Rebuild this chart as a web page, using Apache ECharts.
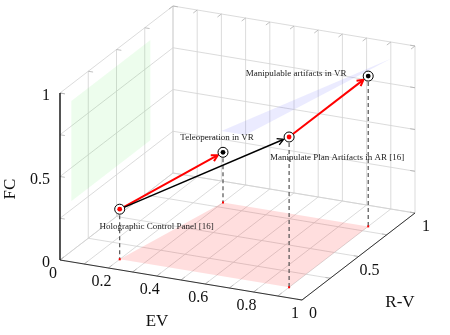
<!DOCTYPE html>
<html><head><meta charset="utf-8">
<script src="https://cdn.jsdelivr.net/npm/echarts@6/dist/echarts.min.js"></script>
<style>html,body{margin:0;padding:0;background:#fff}#c{width:450px;height:335px}</style>
</head><body><div id="c"></div>
<script>
// ---------------- DATA ----------------
const pointNames = ['Holographic Control Panel [16]', 'Teleoperation in VR', 'Manipulate Plan Artifacts in AR [16]', 'Manipulable artifacts in VR'];
const pointEV = [0.2, 0.3, 0.9, 0.9];
const pointRV = [0.1, 0.8, 0.1, 0.8];
const pointFC = [0.3, 0.3, 0.9, 0.9];
const arrowFrom = [0, 0, 2];
const arrowTo   = [1, 2, 3];
const evTickLabels = [0, 0.2, 0.4, 0.6, 0.8, 1];
const rvTickLabels = [0, 0.5, 1];
const fcTickLabels = [0, 0.5, 1];
const evGrid = [0, 0.1, 0.2, 0.3, 0.4, 0.5, 0.6, 0.7, 0.8, 0.9, 1];
const rvGrid = [0, 0.25, 0.5, 0.75, 1];
const fcGrid = [0, 0.25, 0.5, 0.75, 1];
const axisTitles = ['EV', 'R-V', 'FC'];

// ---------------- LAYOUT / STYLE ----------------
const O = [60, 260], EX = [242, 40], EY = [113, -87], EZ = [0, -167];
function P(x, y, z) { return [O[0] + EX[0]*x + EY[0]*y + EZ[0]*z, O[1] + EX[1]*x + EY[1]*y + EZ[1]*z]; }
const dotColors = ['#ff0000', '#000000', '#ff0000', '#000000'];
const arrowColors = ['#ff0000', '#000000', '#ff0000'];
const arrowWidths = [2, 1.4, 2];
const labelOffsets = [[37, 17], [-6, -15], [48, 21], [-72, -2]];
const SERIF = '"Liberation Serif", "DejaVu Serif", serif';

// grid segments
const gridSegs = [];
rvGrid.forEach(v => gridSegs.push([0, v, 0, 0, v, 1]));
fcGrid.forEach(v => gridSegs.push([0, 0, v, 0, 1, v]));
evGrid.forEach(v => gridSegs.push([v, 1, 0, v, 1, 1]));
fcGrid.forEach(v => gridSegs.push([0, 1, v, 1, 1, v]));
evGrid.forEach(v => gridSegs.push([v, 0, 0, v, 1, 0]));
rvGrid.forEach(v => gridSegs.push([0, v, 0, 1, v, 0]));
// tick segments
const tickSegs = [];
evGrid.forEach(v => { tickSegs.push([v, 0, 0, v, 0.035, 0]); tickSegs.push([v, 1, 1, v, 0.965, 1]); });
rvGrid.forEach(v => { tickSegs.push([1, v, 0, 0.98, v, 0]); tickSegs.push([0, v, 1, 0.02, v, 1]); });
fcGrid.forEach(v => { tickSegs.push([0, 0, v, 0.02, 0, v]); tickSegs.push([1, 1, v, 0.98, 1, v]); });

function segRender(color, width, dash) {
  return function (params, api) {
    const a = api.coord(P(api.value(0), api.value(1), api.value(2)));
    const b = api.coord(P(api.value(3), api.value(4), api.value(5)));
    return { type: 'line', shape: { x1: a[0], y1: a[1], x2: b[0], y2: b[1] },
      style: { stroke: color, lineWidth: width, lineDash: dash || null } };
  };
}

// polygons (shaded projections)
const idx = pointEV.map((_, i) => i);
const floorOrder = [0, 2, 3, 1];
const floorPoly = floorOrder.map(i => [pointEV[i], pointRV[i], 0]);
const rvMin = Math.min(...pointRV), rvMax = Math.max(...pointRV);
const fcMin = Math.min(...pointFC), fcMax = Math.max(...pointFC);
const wallPoly = [[0, rvMin, fcMin], [0, rvMax, fcMin], [0, rvMax, fcMax], [0, rvMin, fcMax]];
const backPoly = [0, 1, 3, 2].map(i => [pointEV[i], 1, pointFC[i]]);
const polys = [
  { pts: wallPoly, fill: 'rgba(0,220,0,0.07)' },
  { pts: backPoly, fill: 'rgba(60,60,255,0.10)' },
  { pts: floorPoly, fill: 'rgba(255,0,0,0.13)' }
];

const chart = echarts.init(document.getElementById('c'), null, { renderer: 'canvas' });
const option = {
  animation: false,
  grid: { left: 0, right: 0, top: 0, bottom: 0 },
  xAxis: { type: 'value', min: 0, max: 450, show: false },
  yAxis: { type: 'value', min: 0, max: 335, inverse: true, show: false },
  series: [
    { type: 'custom', data: gridSegs, encode: { x: 0, y: 1 }, renderItem: segRender('#d2d2d2', 0.8), silent: true },
    { type: 'custom', data: tickSegs, encode: { x: 0, y: 1 }, renderItem: segRender('#b0b0b0', 0.8), silent: true },
    { type: 'custom', data: polys.map((_, i) => [i, 0]), encode: { x: 0, y: 1 }, silent: true,
      renderItem: function (params, api) {
        const p = polys[api.value(0)];
        return { type: 'polygon', shape: { points: p.pts.map(q => api.coord(P(q[0], q[1], q[2]))) },
          style: { fill: p.fill } };
      } },
    { type: 'custom', data: [[0, 0, 0, 1, 0, 0], [1, 0, 0, 1, 1, 0]], encode: { x: 0, y: 1 }, renderItem: segRender('#333', 1), silent: true },
    { type: 'custom', data: [[0, 0, 0, 0, 0, 1]], encode: { x: 0, y: 1 }, renderItem: segRender('#000', 1.3), silent: true },
    // drop lines
    { type: 'custom', data: idx.map(i => [pointEV[i], pointRV[i], pointFC[i], pointEV[i], pointRV[i], 0]), encode: { x: 0, y: 1 },
      renderItem: function (params, api) {
        const a = api.coord(P(api.value(0), api.value(1), api.value(2)));
        const b = api.coord(P(api.value(3), api.value(4), api.value(5)));
        return { type: 'group', children: [
          { type: 'line', shape: { x1: a[0], y1: a[1] + 6, x2: b[0], y2: b[1] }, style: { stroke: '#444', lineWidth: 1.1, lineDash: [4, 3] } },
          { type: 'rect', shape: { x: b[0] - 1, y: b[1] - 1, width: 2, height: 2 }, style: { fill: '#ff0000' } }
        ] };
      }, silent: true },
    // arrows
    { type: 'custom', data: arrowFrom.map((f, k) => [k, 0]), encode: { x: 0, y: 1 }, silent: true,
      renderItem: function (params, api) {
        const k = api.value(0), f = arrowFrom[k], t = arrowTo[k];
        const a = api.coord(P(pointEV[f], pointRV[f], pointFC[f]));
        const b = api.coord(P(pointEV[t], pointRV[t], pointFC[t]));
        const dx = b[0] - a[0], dy = b[1] - a[1], L = Math.hypot(dx, dy), ux = dx / L, uy = dy / L;
        const s = [a[0] + ux * 4, a[1] + uy * 4], e = [b[0] - ux * 6, b[1] - uy * 6];
        const hl = 7, ang = 0.5;
        const c = Math.cos(ang), sn = Math.sin(ang);
        const l1 = [e[0] - hl * (ux * c - uy * sn), e[1] - hl * (uy * c + ux * sn)];
        const l2 = [e[0] - hl * (ux * c + uy * sn), e[1] - hl * (uy * c - ux * sn)];
        const col = arrowColors[k], w = arrowWidths[k];
        return { type: 'group', children: [
          { type: 'line', shape: { x1: s[0], y1: s[1], x2: e[0] - ux, y2: e[1] - uy }, style: { stroke: col, lineWidth: w } },
          { type: 'polyline', shape: { points: [l1, e, l2] }, style: { stroke: col, lineWidth: w, fill: null, lineJoin: 'miter' } }
        ] };
      } },
    // markers + labels
    { type: 'custom', data: idx.map(i => [pointEV[i], pointRV[i], pointFC[i], i]), encode: { x: 0, y: 1 }, silent: true,
      renderItem: function (params, api) {
        const i = api.value(3);
        const a = api.coord(P(api.value(0), api.value(1), api.value(2)));
        const off = labelOffsets[i];
        return { type: 'group', children: [
          { type: 'circle', shape: { cx: a[0], cy: a[1], r: 5 }, style: { fill: '#fff', stroke: '#000', lineWidth: 1 } },
          { type: 'circle', shape: { cx: a[0], cy: a[1], r: 2.4 }, style: { fill: dotColors[i] } },
          { type: 'text', x: a[0] + off[0], y: a[1] + off[1], style: { text: pointNames[i], font: '9px ' + SERIF, fill: '#222', align: 'center', verticalAlign: 'middle' } }
        ] };
      } },
    // tick labels
    { type: 'custom', silent: true, encode: { x: 0, y: 1 },
      data: [].concat(
        evTickLabels.map(v => [v, 0, 0, -7, 14]),
        rvTickLabels.map(v => [1, v, 0, 11, 14]),
        fcTickLabels.map(v => [0, 0, v, -10, 3])
      ),
      renderItem: function (params, api) {
        const a = api.coord(P(api.value(0), api.value(1), api.value(2)));
        const which = params.dataIndex < evTickLabels.length ? 0 : (params.dataIndex < evTickLabels.length + rvTickLabels.length ? 1 : 2);
        const v = which === 0 ? api.value(0) : (which === 1 ? api.value(1) : api.value(2));
        return { type: 'text', x: a[0] + api.value(3), y: a[1] + api.value(4),
          style: { text: String(v), font: '16px ' + SERIF, fill: '#111', align: which === 2 ? 'right' : 'center', verticalAlign: 'middle' } };
      } }
  ],
  graphic: [
    { type: 'text', x: 157, y: 322, style: { text: axisTitles[0], font: '17px ' + SERIF, fill: '#111', align: 'center', verticalAlign: 'middle' } },
    { type: 'text', x: 400, y: 303, style: { text: axisTitles[1], font: '17px ' + SERIF, fill: '#111', align: 'center', verticalAlign: 'middle' } },
    { type: 'text', x: 11, y: 189, rotation: Math.PI / 2, style: { text: axisTitles[2], font: '17px ' + SERIF, fill: '#111', align: 'center', verticalAlign: 'middle' } }
  ]
};
chart.setOption(option);
</script></body></html>
